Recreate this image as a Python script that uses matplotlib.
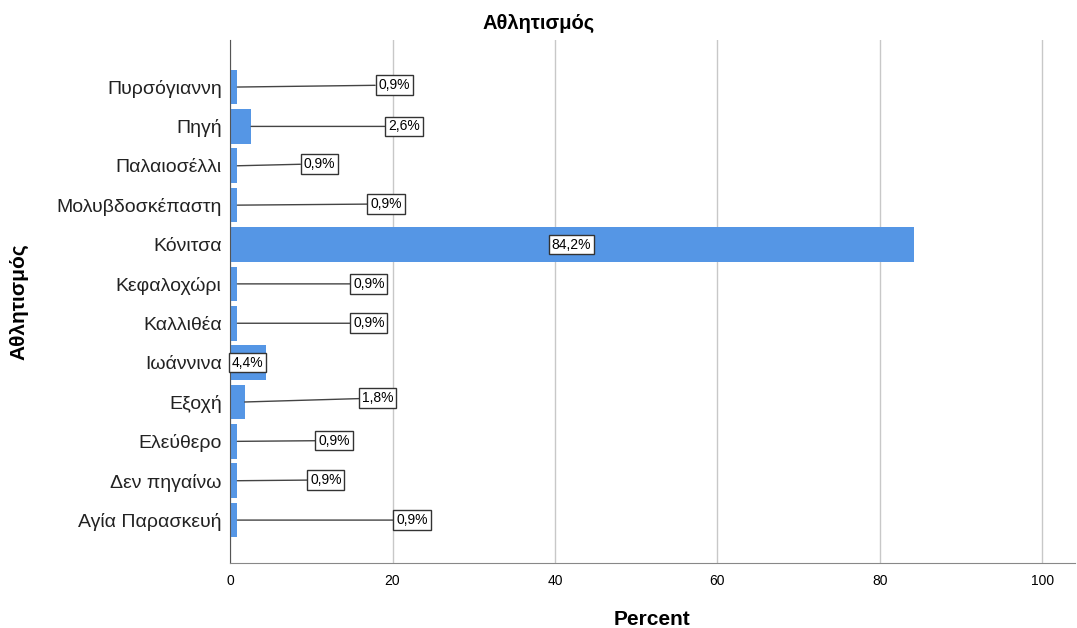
import matplotlib.pyplot as plt
import numpy as np

# Data (bottom to top)
places = ['Αγία Παρασκευή', 'Δεν πηγαίνω', 'Ελεύθερο', 'Εξοχή', 'Ιωάννινα',
          'Καλλιθέα', 'Κεφαλοχώρι', 'Κόνιτσα', 'Μολυβδοσκέπαστη',
          'Παλαιοσέλλι', 'Πηγή', 'Πυρσόγιαννη']
percent = [0.9, 0.9, 0.9, 1.8, 4.4, 0.9, 0.9, 84.2, 0.9, 0.9, 2.6, 0.9]
value_labels = ['0,9%', '0,9%', '0,9%', '1,8%', '4,4%', '0,9%', '0,9%',
                '84,2%', '0,9%', '0,9%', '2,6%', '0,9%']
# where the label boxes sit (x in percent, y offset in rows)
label_x = [22.4, 11.8, 12.8, 18.2, 2.1, 17.1, 17.1, 42.0, 19.2, 11.0, 21.4, 20.2]
label_dy = [0.0, 0.02, 0.02, 0.1, 0.0, 0.0, 0.0, 0.0, 0.03, 0.05, 0.0, 0.05]

plt.rcParams['font.family'] = ['Liberation Sans', 'DejaVu Sans']

fig = plt.figure(figsize=(10.77, 6.28), dpi=100)
ax = fig.add_axes([0.2136, 0.1035, 0.7844, 0.8325])

y = np.arange(len(places))
ax.barh(y, percent, height=0.88, color='#5596e5', zorder=2)

for i in range(len(places)):
    # labels sitting inside the bar get no leader line
    arrow = None
    if label_x[i] > percent[i]:
        arrow = dict(arrowstyle='-', color='#444444', lw=1, shrinkA=0, shrinkB=0)
    ax.annotate(value_labels[i], xy=(percent[i], y[i]),
                xytext=(label_x[i], y[i] + label_dy[i]),
                ha='center', va='center', fontsize=10, zorder=4,
                bbox=dict(boxstyle='square,pad=0.2', fc='white', ec='#333333', lw=1),
                arrowprops=arrow)

ax.set_xlim(0, 104)
ax.set_ylim(-1.09, 12.19)
ax.set_xticks([0, 20, 40, 60, 80, 100])
ax.set_yticks(y)
ax.set_yticklabels(places, fontsize=14, color='#222222')
ax.tick_params(axis='x', labelsize=10, length=0, pad=8)
ax.tick_params(axis='y', length=0, pad=6)
ax.grid(axis='x', color='#c8c8c8', lw=1, zorder=0)

for s in ['top', 'right']:
    ax.spines[s].set_visible(False)
ax.spines['left'].set_color('#555555')
ax.spines['bottom'].set_color('#888888')

ax.set_xlabel('Percent', fontsize=15, fontweight='bold', labelpad=16)
ax.set_ylabel('Αθλητισμός', fontsize=15, fontweight='bold', labelpad=20)
fig.text(0.5, 0.962, 'Αθλητισμός', ha='center', va='center',
         fontsize=14.5, fontweight='bold')

fig.savefig('out.png', dpi=100)
